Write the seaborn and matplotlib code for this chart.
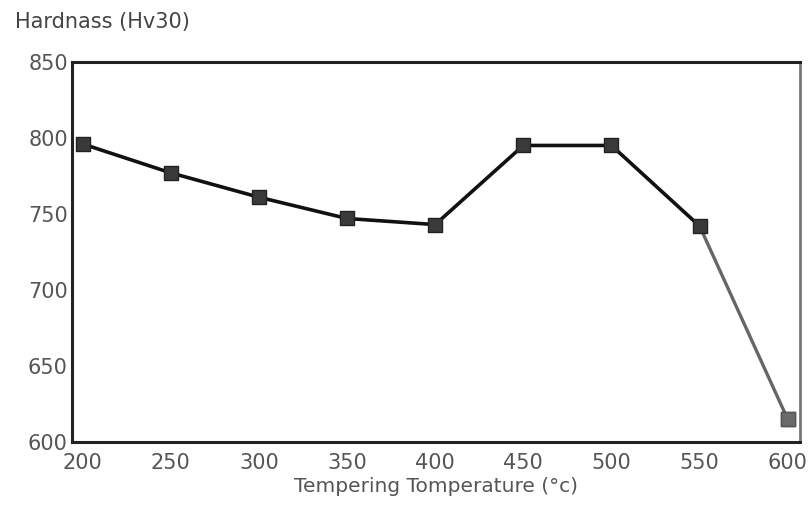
import seaborn as sns
import pandas as pd
import matplotlib.pyplot as plt

# Data
temperature = [200, 250, 300, 350, 400, 450, 500, 550, 600]
hardness = [796, 777, 761, 747, 743, 795, 795, 742, 615]
x_ticks = [200, 250, 300, 350, 400, 450, 500, 550, 600]
y_ticks = [600, 650, 700, 750, 800, 850]

df = pd.DataFrame({'Temperature': temperature, 'Hardness': hardness})

sns.set_theme(style="white")
plt.rcParams['font.family'] = ['DejaVu Sans']

fig = plt.figure(figsize=(8.09, 5.19), dpi=100)
ax = fig.add_axes([0.089, 0.148, 0.9, 0.733])

# main curve (black) and the lighter last segment
sns.lineplot(data=df.iloc[:-1], x='Temperature', y='Hardness', ax=ax,
             color='#111111', linewidth=2.6)
sns.lineplot(data=df.iloc[-2:], x='Temperature', y='Hardness', ax=ax,
             color='#666666', linewidth=2.4)
ax.scatter(df['Temperature'], df['Hardness'], marker='s', s=90,
           color='#3a3a3a', edgecolor='#222222', zorder=3)
ax.scatter(df['Temperature'].iloc[-1:], df['Hardness'].iloc[-1:], marker='s', s=90,
           color='#6a6a6a', edgecolor='#555555', zorder=4)

ax.set_xlim(194, 607)
ax.set_ylim(600, 850)
ax.set_xticks(x_ticks)
ax.set_yticks(y_ticks)
ax.tick_params(axis='both', labelsize=15, colors='#555555', length=0, pad=8)
ax.tick_params(axis='y', pad=3)

for side in ['left', 'bottom', 'top']:
    ax.spines[side].set_color('#222222')
    ax.spines[side].set_linewidth(2.2)
ax.spines['right'].set_color('#777777')
ax.spines['right'].set_linewidth(2)

ax.set_xlabel('Tempering Tomperature (°c)', fontsize=14.5, color='#555555', labelpad=3)
ax.set_ylabel('')
fig.text(0.018, 0.958, 'Hardnass (Hv30)', fontsize=15, color='#444444', va='center')

plt.savefig('out.png', dpi=100)
